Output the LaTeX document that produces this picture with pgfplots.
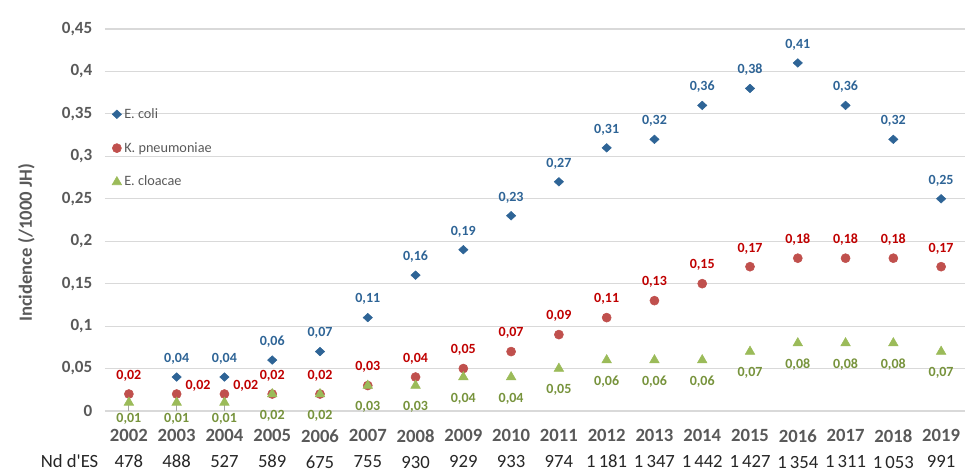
\documentclass[border=0pt]{standalone}
\usepackage{pgfplots}
\pgfplotsset{compat=1.18}
\usetikzlibrary{calc}
\usepackage{fontspec}
\setmainfont{Carlito}
\definecolor{ecoli}{HTML}{2E6496}
\definecolor{kpn}{HTML}{C0504D}
\definecolor{ecl}{HTML}{9BBB59}
\definecolor{kpnlab}{HTML}{C00000}
\definecolor{ecllab}{HTML}{77933C}
\definecolor{txtgray}{HTML}{595959}
\definecolor{gridgray}{HTML}{D9D9D9}
\begin{document}
\begin{tikzpicture}
\begin{axis}[
  scale only axis, width=645pt, height=286.5pt,
  xmin=-0.5, xmax=17.5, ymin=0, ymax=0.45,
  axis line style={draw=none},
  major tick style={draw=none},
  ymajorgrids, grid style={gridgray, line width=0.9pt},
  ytick={0,0.05,0.1,0.15,0.2,0.25,0.3,0.35,0.4,0.45},
  yticklabel style={font=\fontsize{12.8}{14}\selectfont\bfseries, text=txtgray, xshift=-6pt,
    /pgf/number format/.cd, use comma, fixed, precision=2, assume math mode=true},
  xtick={0,...,17},
  xticklabels={
    {\textcolor{txtgray}{\bfseries 2002}\\478},
    {\textcolor{txtgray}{\bfseries 2003}\\488},
    {\textcolor{txtgray}{\bfseries 2004}\\527},
    {\textcolor{txtgray}{\bfseries 2005}\\589},
    {\textcolor{txtgray}{\bfseries 2006}\\675},
    {\textcolor{txtgray}{\bfseries 2007}\\755},
    {\textcolor{txtgray}{\bfseries 2008}\\930},
    {\textcolor{txtgray}{\bfseries 2009}\\929},
    {\textcolor{txtgray}{\bfseries 2010}\\933},
    {\textcolor{txtgray}{\bfseries 2011}\\974},
    {\textcolor{txtgray}{\bfseries 2012}\\1\,181},
    {\textcolor{txtgray}{\bfseries 2013}\\1\,347},
    {\textcolor{txtgray}{\bfseries 2014}\\1\,442},
    {\textcolor{txtgray}{\bfseries 2015}\\1\,427},
    {\textcolor{txtgray}{\bfseries 2016}\\1\,354},
    {\textcolor{txtgray}{\bfseries 2017}\\1\,311},
    {\textcolor{txtgray}{\bfseries 2018}\\1\,053},
    {\textcolor{txtgray}{\bfseries 2019}\\991}},
  xticklabel style={align=center, font=\fontsize{14}{19.5}\selectfont, text=black!85, yshift=-10.5pt},
  ylabel={Incidence (/1000 JH)},
  ylabel style={font=\fontsize{14}{16}\selectfont\bfseries, text=txtgray, at={(axis description cs:-0.0915,0.44)}, anchor=center},
  legend style={at={(axis description cs:0.008,0.80)}, anchor=north west, draw=none, fill=none,
    row sep=12.5pt, font=\fontsize{10.7}{12}\selectfont, text=txtgray, inner sep=0pt},
  legend cell align=left,
  nodes near coords={\pgfmathprintnumber[fixed,zerofill,precision=2,use comma,assume math mode=true]{\pgfplotspointmeta}},
  point meta=y,
]
\addplot[only marks, mark=diamond*, mark size=3.2pt, mark options={draw=ecoli, fill=ecoli, xscale=1.45},
  every node near coord/.append style={font=\fontsize{10.5}{12}\selectfont\bfseries, text=ecoli, anchor=base, inner sep=0pt, yshift=11pt}]
  coordinates {(1,0.04) (2,0.04) (3,0.06) (4,0.07) (5,0.11) (6,0.16) (7,0.19) (8,0.23) (9,0.27)
    (10,0.31) (11,0.32) (12,0.36) (13,0.38) (14,0.41) (15,0.36) (16,0.32) (17,0.25)};
\addlegendentry{E. coli}
\addplot[only marks, mark=*, mark size=3.4pt, mark options={draw=kpn, fill=kpn},
  every node near coord/.append style={font=\fontsize{10.5}{12}\selectfont\bfseries, text=kpnlab, anchor=base, inner sep=0pt, yshift=11pt}]
  coordinates {(0,0.02) (3,0.02) (4,0.02) (5,0.03) (6,0.04) (7,0.05) (8,0.07) (9,0.09)
    (10,0.11) (11,0.13) (12,0.15) (13,0.17) (14,0.18) (15,0.18) (16,0.18) (17,0.17)};
\addlegendentry{K. pneumoniae}
\addplot[only marks, mark=triangle*, mark size=4.1pt, mark options={draw=ecl, fill=ecl},
  every node near coord/.append style={font=\fontsize{10.5}{12}\selectfont\bfseries, text=ecllab, anchor=base, inner sep=0pt, yshift=-19pt}]
  coordinates {(3,0.02) (4,0.02) (5,0.03) (6,0.03) (7,0.04) (8,0.04) (9,0.05)
    (10,0.06) (11,0.06) (12,0.06) (13,0.07) (14,0.08) (15,0.08) (16,0.08) (17,0.07)};
\addlegendentry{E. cloacae}
\addplot[forget plot, only marks, mark=*, mark size=3.4pt, mark options={draw=kpn, fill=kpn},
  every node near coord/.append style={font=\fontsize{10.5}{12}\selectfont\bfseries, text=kpnlab, anchor=base west, inner sep=0pt, xshift=6.5pt, yshift=3.4pt}]
  coordinates {(1,0.02) (2,0.02)};
\addplot[forget plot, draw=none, mark=none, nodes near coords={},
  error bars/.cd, y dir=minus, y explicit, error mark=none, error bar style={gray!70, line width=0.8pt}]
  coordinates {(0,0.01) -= (0,0.01) (1,0.01) -= (0,0.01) (2,0.01) -= (0,0.01)};
\addplot[forget plot, only marks, mark=triangle*, mark size=4.1pt, mark options={draw=ecl, fill=ecl},
  every node near coord/.append style={font=\fontsize{10.5}{12}\selectfont\bfseries, text=ecllab, anchor=base, inner sep=0pt, yshift=-15pt}]
  coordinates {(0,0.01) (1,0.01) (2,0.01)};
\end{axis}
\node[anchor=base east, font=\fontsize{14}{21}\selectfont, text=black!85] at ($(current axis.south west)+(-1.5pt,-42.5pt)$) {Nd d\textquotesingle ES};
\path ($(current axis.south west)+(-78.75pt,-48.75pt)$) rectangle ($(current axis.north east)+(6pt,21.75pt)$);
\end{tikzpicture}
\end{document}
